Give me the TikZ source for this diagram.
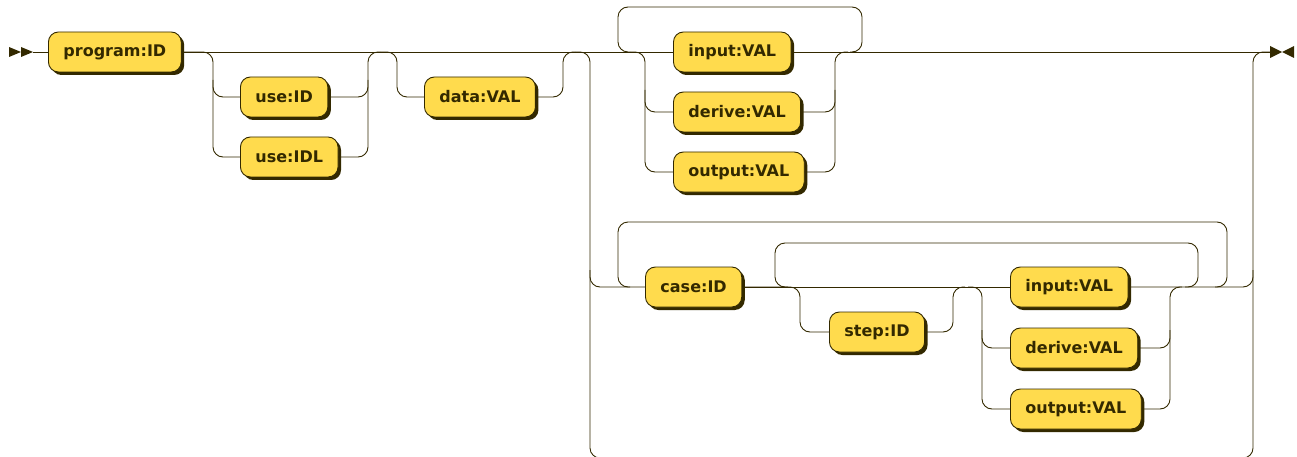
\documentclass[tikz,border=0pt]{standalone}
\usepackage{fontspec}
\setmainfont{DejaVu Sans}
\usetikzlibrary{shadows}
\definecolor{railc}{HTML}{332900}
\definecolor{termc}{HTML}{FFDB4D}
\tikzset{
  rail/.style={draw=railc, line width=0.9pt, rounded corners=10pt},
  term/.style={draw=railc, fill=termc, line width=0.9pt, rounded corners=10pt,
    text=railc, font=\fontsize{16}{19}\selectfont\bfseries, inner xsep=15pt,
    minimum height=40pt, anchor=west,
    drop shadow={shadow xshift=3pt, shadow yshift=-3pt, fill=railc, opacity=1}},
}
\begin{document}
\begin{tikzpicture}[x=1pt,y=-1pt]
\useasboundingbox (0,0) rectangle (1297,457);
\coordinate (start) at (33,52);
\coordinate (end) at (1270,52);
\fill[railc] (9,47) -- (21,52) -- (9,57) -- cycle;
\fill[railc] (21,47) -- (33,52) -- (21,57) -- cycle;
\fill[railc] (1270,46) -- (1282,52) -- (1270,58) -- cycle;
\fill[railc] (1294,46) -- (1282,52) -- (1294,58) -- cycle;

\node[term] (prog) at (48,52) {program:ID};
\node[term] (useid) at (240,97) {use:ID};
\node[term] (useidl) at (240,157) {use:IDL};
\node[term] (data) at (424,97) {data:VAL};
\node[term] (topin) at (673,52) {input:VAL};
\node[term] (topder) at (673,112) {derive:VAL};
\node[term] (topout) at (673,172) {output:VAL};
\node[term] (case) at (645,287) {case:ID};
\node[term] (step) at (829,332) {step:ID};
\node[term] (inin) at (1010,287) {input:VAL};
\node[term] (inder) at (1010,348) {derive:VAL};
\node[term] (inout) at (1010,409) {output:VAL};

\draw[rail] (start) -- (prog);
\draw[rail] (prog) -- (topin);
\draw[rail] (topin) -- (end);

\draw[rail] (prog.east) -| (213,157) -- (useidl.west);
\draw[rail] (213,80) |- (useid.west);
\draw[rail] (useidl.east) -| (368,52) -- (380,52);
\draw[rail] (useid.east) -| (368,80);

\draw[rail] (380,52) -| (397,97) -- (data.west);
\draw[rail] (data.east) -| (563,52) -- (575,52);

\draw[rail] (850,52) -| (862,7) -| (618,52) -- (630,52);
\draw[rail] (630,52) -| (645,172) -- (topout.west);
\draw[rail] (645,90) |- (topder.west);
\draw[rail] (topout.east) -| (835,52) -- (848,52);
\draw[rail] (topder.east) -| (835,90);

\draw[rail] (575,52) -| (590,458) -| (1253,52) -- (end);
\draw[rail] (590,270) |- (case.west);
\draw[rail] (case.east) -- (inin.west);
\draw[rail] (inin.east) -| (1253,270);
\draw[rail] (1215,287) -| (1227,222) -| (618,287) -- (630,287);
\draw[rail] (1185,287) -| (1198,243) -| (775,287) -- (788,287);

\draw[rail] (case.east) -| (800,332) -- (step.west);
\draw[rail] (step.east) -| (953,287) -- (965,287);

\draw[rail] (968,287) -| (982,409) -- (inout.west);
\draw[rail] (982,330) |- (inder.west);
\draw[rail] (inout.east) -| (1170,287) -- (1182,287);
\draw[rail] (inder.east) -| (1170,330);
\end{tikzpicture}
\end{document}
